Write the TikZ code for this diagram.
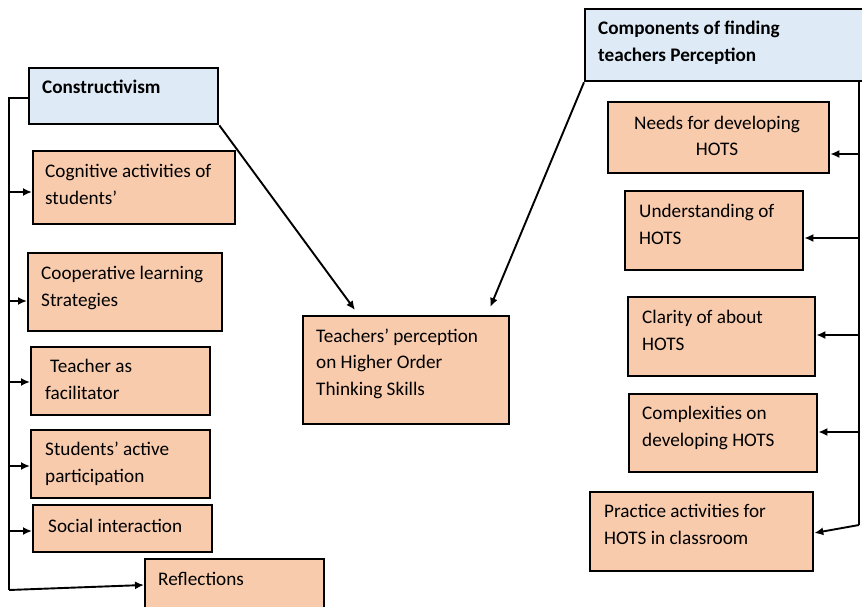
\documentclass[tikz,border=0pt]{standalone}
\usepackage{fontspec}
\setmainfont{Carlito}
\usetikzlibrary{arrows.meta}
\definecolor{peach}{RGB}{248,203,173}
\definecolor{paleblue}{RGB}{222,235,247}

\begin{document}
\begin{tikzpicture}[x=1pt,y=-1pt,
  box/.style={draw=black, line width=2.3pt, fill=peach, anchor=north west, inner sep=0pt},
  headbox/.style={box, fill=paleblue},
  % text nodes are placed at the baseline of their last line
  txt/.style={anchor=base west, align=left, inner sep=0pt, font=\fontsize{19.2}{26.5}\selectfont},
  head/.style={txt, font=\fontsize{19.2}{27.5}\selectfont\bfseries},
  link/.style={line width=1.9pt, -{Latex[length=9pt,width=8pt]}},
  trunk/.style={line width=1.9pt}]

\useasboundingbox (0,0) rectangle (862,607);
\fill[white] (0,0) rectangle (862,607);

% boxes
\node[headbox, minimum width=189pt, minimum height=56pt] (cons) at (28,67) {};
\node[box, minimum width=202pt, minimum height=73pt] (cog) at (32,150) {};
\node[box, minimum width=194pt, minimum height=78pt] (coop) at (27,252) {};
\node[box, minimum width=179pt, minimum height=68pt] (fac) at (30,346) {};
\node[box, minimum width=179pt, minimum height=68pt] (part) at (30,429) {};
\node[box, minimum width=179pt, minimum height=47pt] (soc) at (32,504) {};
\node[box, minimum width=179pt, minimum height=70pt] (refl) at (144,558) {};
\node[box, minimum width=206pt, minimum height=108pt] (hots) at (302,315) {};
\node[headbox, minimum width=280pt, minimum height=72pt] (comp) at (584,8) {};
\node[box, minimum width=221pt, minimum height=71pt] (need) at (607,101) {};
\node[box, minimum width=178pt, minimum height=79pt] (und) at (624,190) {};
\node[box, minimum width=187pt, minimum height=79pt] (clar) at (627,296) {};
\node[box, minimum width=188pt, minimum height=78pt] (cplx) at (628,393) {};
\node[box, minimum width=223pt, minimum height=79pt] (prac) at (589,491) {};

% labels
\node[head] (cons-t) at (42,94) {Constructivism};
\node[txt] (cog-t) at (45,204) {Cognitive activities of\\students’};
\node[txt] (coop-t) at (41,306) {Cooperative learning\\Strategies};
\node[txt] (fac-t) at (45,399) {\hspace{5pt}Teacher as\\facilitator};
\node[txt] (part-t) at (45,482) {Students’ active\\participation};
\node[txt] (soc-t) at (48,532) {Social interaction};
\node[txt] (refl-t) at (158,585) {Reflections};
\node[txt] (hots-t) at (316,395) {Teachers’ perception\\on Higher Order\\Thinking Skills};
\node[head] (comp-t) at (598,62) {Components of finding\\teachers Perception};
\node[txt, align=center, anchor=base] (need-t) at (717,156) {Needs for developing\\HOTS};
\node[txt] (und-t) at (639,244) {Understanding of\\HOTS};
\node[txt] (clar-t) at (642,350) {Clarity of about\\HOTS};
\node[txt] (cplx-t) at (642,446) {Complexities on\\developing HOTS};
\node[txt] (prac-t) at (604,544) {Practice activities for\\HOTS in classroom};

% left trunk
\coordinate (L0) at (9,98);
\coordinate (L1) at (9,590);
\draw[trunk] (cons.west |- L0) -- (L0) -- (L1);
\foreach \n/\y in {cog/192, coop/301, fac/382, part/466, soc/531}{
  \coordinate (l-\n) at (9,\y);
  \draw[link] (l-\n) -- (\n.west |- l-\n);
}
\draw[link] (L1) -- (refl.west |- 0,585);

% right trunk
\coordinate (R0) at (859,80);
\coordinate (R1) at (859,525);
\draw[trunk] (R0) -- (R1);
\foreach \n/\y in {need/154, und/238, clar/335, cplx/432}{
  \coordinate (r-\n) at (859,\y);
  \draw[link] (r-\n) -- (\n.east |- r-\n);
}
\draw[link] (R1) -- (prac.east |- 0,533);

% links into the central box
\draw[link] (cons.south east) -- ([xshift=53pt,yshift=5pt]hots.north west);
\draw[link] (comp.south west) -- ([xshift=-20pt,yshift=8pt]hots.north east);
\end{tikzpicture}
\end{document}
